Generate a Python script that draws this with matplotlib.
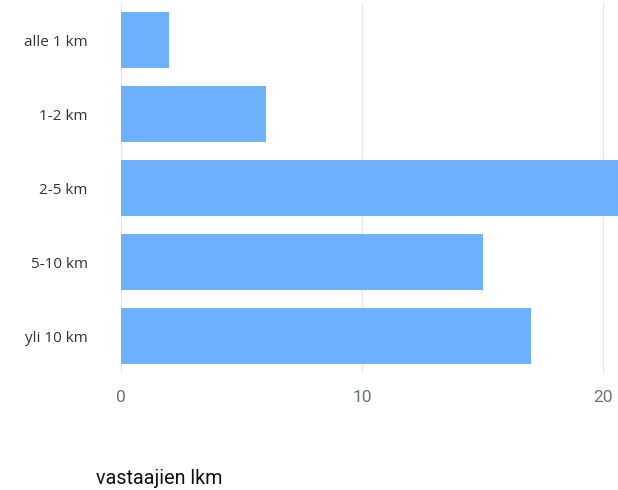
import matplotlib
matplotlib.use("Agg")
import matplotlib.pyplot as plt

# distance categories and respondent counts
categories = ["alle 1 km", "1-2 km", "2-5 km", "5-10 km", "yli 10 km"]
counts = [2, 6, 22, 15, 17]
x_ticks = [0, 10, 20]

fig = plt.figure(figsize=(6.18, 4.9), dpi=100)
ax = fig.add_axes([121 / 618, 1 - 373 / 490, 1 - 121 / 618, 370 / 490])

ypos = list(range(len(categories)))
ax.barh(ypos, counts, height=0.76, color="#6eb2ff", zorder=2)

ax.set_ylim(len(categories) - 0.5, -0.5)
ax.set_xlim(0, 20.62)
ax.set_yticks(ypos)
ax.set_yticklabels(categories, fontsize=11, color="#333333", family="Open Sans")
ax.set_xticks(x_ticks)
ax.set_xticklabels([str(t) for t in x_ticks], fontsize=12.5, color="#6b7280", family="Roboto")

ax.tick_params(axis="y", length=0, pad=24)
ax.tick_params(axis="x", length=0, pad=12)
ax.grid(axis="x", color="#e5e7eb", linewidth=1, zorder=0)
for s in ax.spines.values():
    s.set_visible(False)

fig.text(159 / 618, 1 - 478 / 490, "vastaajien lkm", fontsize=14.2, color="#111111",
         family="Roboto", ha="center", va="center")

fig.savefig("out.png", dpi=100)
